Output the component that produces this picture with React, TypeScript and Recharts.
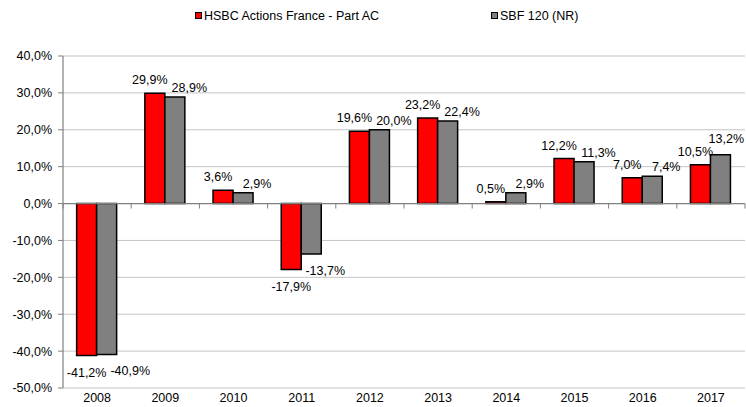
import React from 'react';
import { BarChart, Bar, XAxis, YAxis, CartesianGrid, ReferenceLine, LabelList } from 'recharts';

const years = ['2008', '2009', '2010', '2011', '2012', '2013', '2014', '2015', '2016', '2017'];
const fundValues = [-41.2, 29.9, 3.6, -17.9, 19.6, 23.2, 0.5, 12.2, 7.0, 10.5];
const indexValues = [-40.9, 28.9, 2.9, -13.7, 20.0, 22.4, 2.9, 11.3, 7.4, 13.2];
const yTicks = [-50, -40, -30, -20, -10, 0, 10, 20, 30, 40];
const fundName = 'HSBC Actions France - Part AC';
const indexName = 'SBF 120 (NR)';

const data = years.map((y, i) => ({ year: y, fund: fundValues[i], index: indexValues[i] }));

const FONT = 'Liberation Sans, Arial, sans-serif';
const FS = 12.5;
const fmt = (v: number) => v.toFixed(1).replace('.', ',') + '%';

const textWidth = (s: string) => {
  let w = 0;
  for (const c of s) {
    if (c >= '0' && c <= '9') w += 0.556;
    else if (c === ',') w += 0.278;
    else if (c === '%') w += 0.889;
    else if (c === '-') w += 0.333;
    else w += 0.556;
  }
  return w * FS;
};

const RED_DX_POS = -5;
const RED_GAP = 9;
const GRAY_DX = 14;
const GRAY_GAP = 5;
const NEG_GAP = 21;

const redPos = (x: number, width: number, top: number, bottom: number, v: number) => {
  const cx = x + width / 2 + (v < 0 ? 0 : RED_DX_POS);
  const ty = v < 0 ? bottom + NEG_GAP : top - RED_GAP;
  return { cx, ty };
};

const RedLabel = (props: any) => {
  const { x, y, width, height, value } = props;
  const v = Number(value);
  const top = Math.min(y, y + height);
  const bottom = Math.max(y, y + height);
  const { cx, ty } = redPos(x, width, top, bottom, v);
  return (
    <text x={cx} y={ty} textAnchor="middle" fontSize={FS} fontFamily={FONT} fill="#000">
      {fmt(v)}
    </text>
  );
};

const GrayLabel = (props: any) => {
  const { x, y, width, height, value, index } = props;
  const v = Number(value);
  const h = Math.abs(height);
  const top = Math.min(y, y + height);
  const bottom = Math.max(y, y + height);
  const zeroY = v >= 0 ? bottom : top;
  const scale = v !== 0 ? h / Math.abs(v) : 0;
  const rv = fundValues[index];
  const rEnd = zeroY - rv * scale;
  const rTop = Math.min(zeroY, rEnd);
  const rBottom = Math.max(zeroY, rEnd);
  const red = redPos(x - width, width, rTop, rBottom, rv);
  const rw = textWidth(fmt(rv));
  const gw = textWidth(fmt(v));

  let cx = x + width / 2 + GRAY_DX;
  let ty = v < 0 ? bottom + NEG_GAP : top - GRAY_GAP;
  const vOverlap = Math.abs(ty - red.ty) < 13;
  if (vOverlap) {
    const minCx = red.cx + rw / 2 + 4 + gw / 2;
    if (minCx + gw / 2 <= 744) {
      cx = Math.max(cx, minCx);
    } else {
      cx = Math.min(cx, 744 - gw / 2);
      ty = v < 0 ? red.ty + 13 : red.ty - 13;
    }
  }
  if (cx + gw / 2 > 744) cx = 744 - gw / 2;
  return (
    <text x={cx} y={ty} textAnchor="middle" fontSize={FS} fontFamily={FONT} fill="#000">
      {fmt(v)}
    </text>
  );
};

const ZeroLine = (props: any) => {
  const { x1, y1, x2 } = props;
  const n = years.length;
  const step = (x2 - x1) / n;
  const ticks = [];
  for (let i = 0; i <= n; i++) {
    const tx = x1 + i * step;
    ticks.push(<line key={i} x1={tx} x2={tx} y1={y1} y2={y1 + 5} stroke="#808080" strokeWidth={1} />);
  }
  return (
    <g>
      <line x1={x1} x2={x2} y1={y1} y2={y1} stroke="#808080" strokeWidth={1.2} />
      {ticks}
    </g>
  );
};

const XTick = (props: any) => {
  const { x, y, payload } = props;
  return (
    <text x={x} y={y + 6} textAnchor="middle" fontSize={FS} fontFamily={FONT} fill="#000">
      {payload.value}
    </text>
  );
};

export default function App() {
  return (
    <div style={{ position: 'absolute', left: 0, top: 0, width: 746, height: 407, background: '#fff' }}>
      <div style={{ position: 'absolute', left: 0, top: 9, width: 746, height: 16, fontFamily: FONT, fontSize: FS, color: '#000' }}>
        <div style={{ position: 'absolute', left: 195, top: 3, width: 5, height: 5, background: '#ff0000', border: '1px solid #000' }} />
        <div style={{ position: 'absolute', left: 204, top: 0, whiteSpace: 'nowrap' }}>{fundName}</div>
        <div style={{ position: 'absolute', left: 491, top: 3, width: 5, height: 5, background: '#808080', border: '1px solid #000' }} />
        <div style={{ position: 'absolute', left: 500, top: 0, whiteSpace: 'nowrap' }}>{indexName}</div>
      </div>
      <BarChart
        width={746}
        height={407}
        data={data}
        margin={{ top: 56, right: 1, bottom: 0, left: 0 }}
        barCategoryGap="20%"
        barGap={0}
      >
        <CartesianGrid vertical={false} stroke="#c4c4c4" strokeWidth={1} />
        <XAxis
          dataKey="year"
          height={19}
          axisLine={false}
          tickLine={false}
          tick={<XTick />}
          interval={0}
        />
        <YAxis
          width={63}
          domain={[-50, 40]}
          ticks={yTicks}
          interval={0}
          allowDataOverflow
          tickFormatter={(v: number) => fmt(v)}
          tick={{ fontSize: FS, fontFamily: FONT, fill: '#000' }}
          axisLine={{ stroke: '#808080', strokeWidth: 1.2 }}
          tickLine={{ stroke: '#808080' }}
          tickSize={5}
          tickMargin={6}
        />
        <Bar dataKey="fund" fill="#ff0000" stroke="#000" strokeWidth={1.5} isAnimationActive={false}>
          <LabelList dataKey="fund" content={<RedLabel />} />
        </Bar>
        <Bar dataKey="index" fill="#808080" stroke="#000" strokeWidth={1.5} isAnimationActive={false}>
          <LabelList dataKey="index" content={<GrayLabel />} />
        </Bar>
        <ReferenceLine y={0} shape={<ZeroLine />} />
      </BarChart>
    </div>
  );
}
